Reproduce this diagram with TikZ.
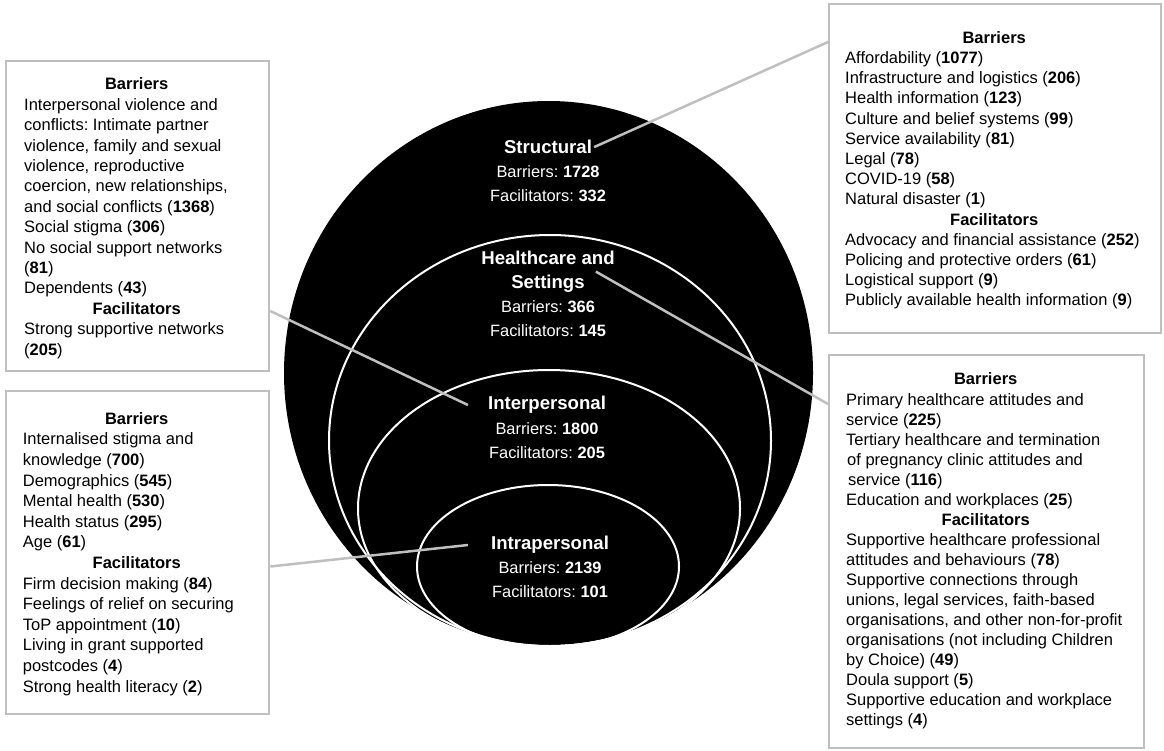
\documentclass[tikz,border=0pt]{standalone}
\usepackage{fontspec}
\setmainfont{Liberation Sans}
\usetikzlibrary{positioning}
\frenchspacing

\definecolor{framegray}{HTML}{BFBFBF}
\newcommand{\bnum}[1]{\textbf{#1}}
\newcommand{\hdr}[2]{\makebox[#1pt][c]{\bfseries #2}}

\begin{document}
\begin{tikzpicture}[x=1pt, y=-1pt,
    panel/.style={draw=framegray, line width=2.3pt, inner sep=0pt, anchor=north west},
    paneltext/.style={align=left, inner sep=0pt, anchor=north west, font=\fontsize{16.5}{#1}\selectfont},
    ringtitle/.style={text=white, align=center, inner sep=2pt, font=\fontsize{18.6}{24}\selectfont\bfseries},
    ringstat/.style={text=white, align=center, inner sep=0pt, font=\fontsize{16.4}{24.3}\selectfont},
    ring/.style={draw=white, line width=2pt},
    link/.style={draw=framegray, line width=2.5pt}]

    \useasboundingbox (0,0) rectangle (1164,750);

    % Rings
    \fill[black] (548.5,373) ellipse [x radius=264.5, y radius=272];
    \draw[ring] (550,440.5) ellipse [x radius=221, y radius=205.5];
    \draw[ring] (549,508.5) ellipse [x radius=191, y radius=138.5];
    \draw[ring] (548,566.5) ellipse [x radius=131, y radius=81.5];

    % Ring labels
    \node[ringtitle] (structural) at (548,147.1) {Structural};
    \node[ringstat, below=9.3pt of structural] (structstat) {Barriers: \bnum{1728}\\Facilitators: \bnum{332}};
    \node[ringtitle] (hctitle) at (548,271.6) {Healthcare and\\Settings};
    \node[ringstat, below=5.6pt of hctitle] (hcstat) {Barriers: \bnum{366}\\Facilitators: \bnum{145}};
    \node[ringtitle] (interpersonal) at (547,405) {Interpersonal};
    \node[ringstat, below=6.3pt of interpersonal] (interstat) {Barriers: \bnum{1800}\\Facilitators: \bnum{205}};
    \node[ringtitle] (intrapersonal) at (550,545) {Intrapersonal};
    \node[ringstat, below=5.4pt of intrapersonal] (intrastat) {Barriers: \bnum{2139}\\Facilitators: \bnum{101}};

    % Panels
    \node[panel, minimum width=263, minimum height=310] (interbox) at (5,60) {};
    \node[panel, minimum width=263, minimum height=323] (intrabox) at (5,390) {};
    \node[panel, minimum width=332, minimum height=329] (structbox) at (828,3) {};
    \node[panel, minimum width=315, minimum height=393] (hcbox) at (828,354) {};

    \node[paneltext=20.4] (intertext) at (24,77.8) {%
        \hdr{225}{Barriers}\\
        Interpersonal violence and\\
        conflicts: Intimate partner\\
        violence, family and sexual\\
        violence, reproductive\\
        coercion, new relationships,\\
        and social conflicts (\bnum{1368})\\
        Social stigma (\bnum{306})\\
        No social support networks\\
        (\bnum{81})\\
        Dependents (\bnum{43})\\
        \hdr{225}{Facilitators}\\
        Strong supportive networks\\
        (\bnum{205})};

    \node[paneltext=20.6] (intratext) at (22.7,412.2) {%
        \hdr{227.6}{Barriers}\\
        Internalised stigma and\\
        knowledge (\bnum{700})\\
        Demographics (\bnum{545})\\
        Mental health (\bnum{530})\\
        Health status (\bnum{295})\\
        Age (\bnum{61})\\
        \hdr{227.6}{Facilitators}\\
        Firm decision making (\bnum{84})\\
        Feelings of relief on securing\\
        ToP appointment (\bnum{10})\\
        Living in grant supported\\
        postcodes (\bnum{4})\\
        Strong health literacy (\bnum{2})};

    \node[paneltext=20.2] (structtext) at (845,31.2) {%
        \hdr{298}{Barriers}\\
        Affordability (\bnum{1077})\\
        Infrastructure and logistics (\bnum{206})\\
        Health information (\bnum{123})\\
        Culture and belief systems (\bnum{99})\\
        Service availability (\bnum{81})\\
        Legal (\bnum{78})\\
        COVID-19 (\bnum{58})\\
        Natural disaster (\bnum{1})\\
        \hdr{298}{Facilitators}\\
        Advocacy and financial assistance (\bnum{252})\\
        Policing and protective orders (\bnum{61})\\
        Logistical support (\bnum{9})\\
        Publicly available health information (\bnum{9})};

    \node[paneltext=20.05] (hctext) at (846,372.8) {%
        \hdr{279}{Barriers}\\
        Primary healthcare attitudes and\\
        service (\bnum{225})\\
        Tertiary healthcare and termination\\
        \hspace{1pt}of pregnancy clinic attitudes and\\
        \hspace{2pt}service (\bnum{116})\\
        Education and workplaces (\bnum{25})\\
        \hdr{279}{Facilitators}\\
        Supportive healthcare professional\\
        attitudes and behaviours (\bnum{78})\\
        Supportive connections through\\
        unions, legal services, faith-based\\
        organisations, and other non-for-profit\\
        organisations (not including Children\\
        by Choice) (\bnum{49})\\
        Doula support (\bnum{5})\\
        Supportive education and workplace\\
        settings (\bnum{4})};

    % Links
    \draw[link] (structural.east) -- ([yshift=-39pt]structbox.north west);
    \draw[link] ([xshift=-21pt]hctitle.east) -- ([yshift=-50pt]hcbox.north west);
    \draw[link] ([yshift=-251pt]interbox.north east) -- ([xshift=-18pt]interpersonal.west);
    \draw[link] ([yshift=-176.5pt]intrabox.north east) -- ([xshift=-21pt]intrapersonal.west);
\end{tikzpicture}
\end{document}
